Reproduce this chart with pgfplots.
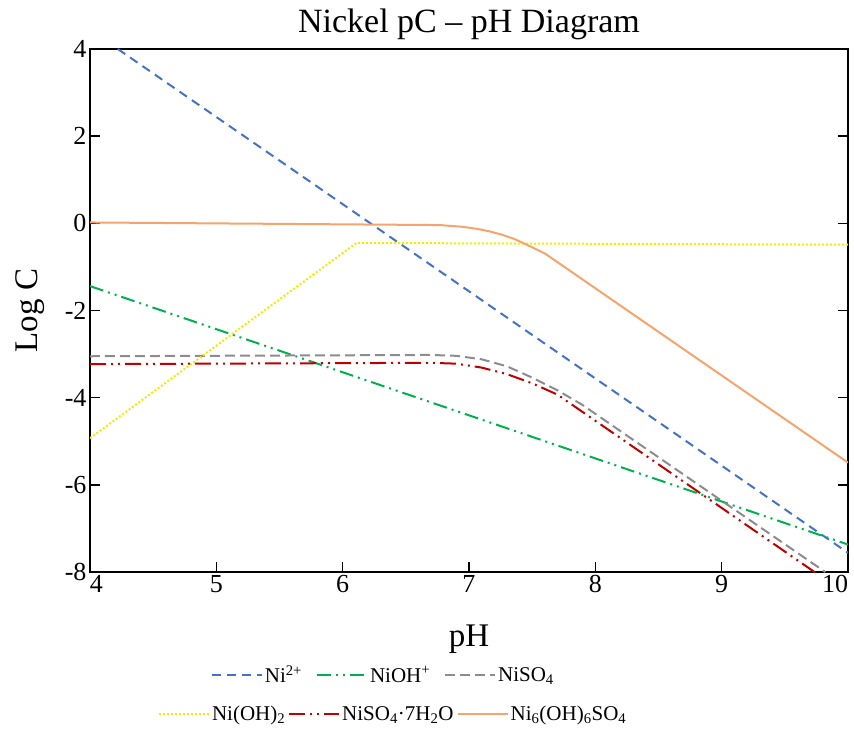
\documentclass[border=0pt]{standalone}
\usepackage{fontspec}
\setmainfont{Liberation Serif}
\usepackage{pgfplots}
\usepackage{pgfplotstable}
\pgfplotsset{compat=1.18}

\definecolor{niblue}{HTML}{4472C4}
\definecolor{nigreen}{HTML}{00B050}
\definecolor{nigray}{HTML}{8C8C8C}
\definecolor{niyellow}{HTML}{F2EC00}
\definecolor{nired}{HTML}{C00000}
\definecolor{niorange}{HTML}{F4A46C}

% pH  log C
\pgfplotstableread{
ph logc
4.22 4.00
10.0 -7.56
}\tblNi
\pgfplotstableread{
ph logc
4.0 -1.44
10.0 -7.37
}\tblNiOH
\pgfplotstableread{
ph logc
4.0  -3.05
6.7  -3.02
6.9  -3.04
7.1  -3.12
7.3  -3.28
7.5  -3.54
7.7  -3.83
7.9  -4.17
8.13 -4.63
9.82 -8.00
}\tblNiSO
\pgfplotstableread{
ph logc
4.0  -4.93
6.11 -0.45
10.0 -0.49
}\tblNiOHtwo
\pgfplotstableread{
ph logc
4.0  -3.23
6.7  -3.20
6.9  -3.22
7.1  -3.31
7.3  -3.46
7.5  -3.67
7.7  -3.93
7.9  -4.33
8.05 -4.63
9.75 -8.03
}\tblHydrate
\pgfplotstableread{
ph logc
4.0   0.02
6.77 -0.04
6.95 -0.08
7.07 -0.13
7.17 -0.19
7.26 -0.26
7.36 -0.36
7.45 -0.48
7.6  -0.69
10.0 -5.49
}\tblBasic

\tikzset{
  s-ni/.style={niblue, line width=2pt, dash pattern=on 9pt off 6pt},
  s-nioh/.style={nigreen, line width=2pt, dash pattern=on 14pt off 5pt on 2pt off 5pt on 2pt off 5pt},
  s-niso/.style={nigray, line width=2pt, dash pattern=on 10pt off 5pt},
  s-niohtwo/.style={niyellow, line width=2pt, dash pattern=on 2pt off 2pt},
  s-hyd/.style={nired, line width=2pt, dash pattern=on 16pt off 5pt on 2pt off 5pt on 2pt off 5pt},
  s-basic/.style={niorange, line width=2pt},
}

\pgfplotsset{
  ledgebox/.style={
    legend columns=3,
    legend cell align=left,
    legend style={draw=none, fill=none, font=\fontsize{21}{24}\selectfont,
      anchor=center},
    legend image code/.code={\draw[##1] (0pt,0pt) -- (50pt,0pt);},
  },
}

\begin{document}
\begin{tikzpicture}
\path[use as bounding box] (-90pt,-162pt) rectangle (764pt,572pt);
\begin{axis}[
  at={(0pt,0pt)}, anchor=south west,
  scale only axis, width=758pt, height=523pt,
  xmin=4, xmax=10, ymin=-8, ymax=4,
  xtick={4,5,...,10}, ytick={-8,-6,...,4},
  xticklabels={{\makebox[0pt][l]{4}},5,6,7,8,9,{\makebox[0pt][r]{10}}},
  xtick pos=bottom,
  axis line style={line width=1.5pt},
  major tick style={line width=1.5pt, black},
  major tick length=10pt,
  /pgf/number format/assume math mode=true,
  tick label style={font=\fontsize{26}{30}\selectfont},
  title={Nickel pC -- pH Diagram},
  title style={font=\fontsize{34}{38}\selectfont, at={(axis description cs:0.5,1)}, anchor=base, yshift=10pt},
  xlabel={pH},
  xlabel style={font=\fontsize{33}{36}\selectfont, at={(axis description cs:0.5,0)}, anchor=base, yshift=-74pt},
  ylabel={Log C},
  ylabel style={font=\fontsize{33}{36}\selectfont, at={(axis description cs:-0.079,0.5)}, anchor=center},
  ledgebox,
  legend style={at={(axis description cs:0.387,-0.197)},
    /tikz/every even column/.append style={column sep=12pt}},
]
\addplot[s-ni] table[x=ph,y=logc] {\tblNi};
\addlegendentry{Ni\textsuperscript{2+}}
\addplot[s-nioh] table[x=ph,y=logc] {\tblNiOH};
\addlegendentry{NiOH\textsuperscript{+}}
\addplot[s-niso] table[x=ph,y=logc] {\tblNiSO};
\addlegendentry{NiSO\textsubscript{4}}
\addplot[s-niohtwo, forget plot] table[x=ph,y=logc] {\tblNiOHtwo};
\addplot[s-hyd, forget plot] table[x=ph,y=logc] {\tblHydrate};
\addplot[s-basic, forget plot] table[x=ph,y=logc] {\tblBasic};
\end{axis}
% second legend row
\begin{axis}[
  at={(0pt,0pt)}, anchor=south west,
  scale only axis, width=758pt, height=523pt,
  xmin=4, xmax=10, ymin=-8, ymax=4,
  hide axis,
  ledgebox,
  legend style={at={(axis description cs:0.400,-0.272)},
    /tikz/every even column/.append style={column sep=1pt}},
]
\addlegendimage{s-niohtwo}
\addlegendentry{Ni(OH)\textsubscript{2}}
\addlegendimage{s-hyd}
\addlegendentry{NiSO\textsubscript{4}{\textperiodcentered}7H\textsubscript{2}O}
\addlegendimage{s-basic}
\addlegendentry{Ni\textsubscript{6}(OH)\textsubscript{6}SO\textsubscript{4}}
\end{axis}
\end{tikzpicture}
\end{document}
